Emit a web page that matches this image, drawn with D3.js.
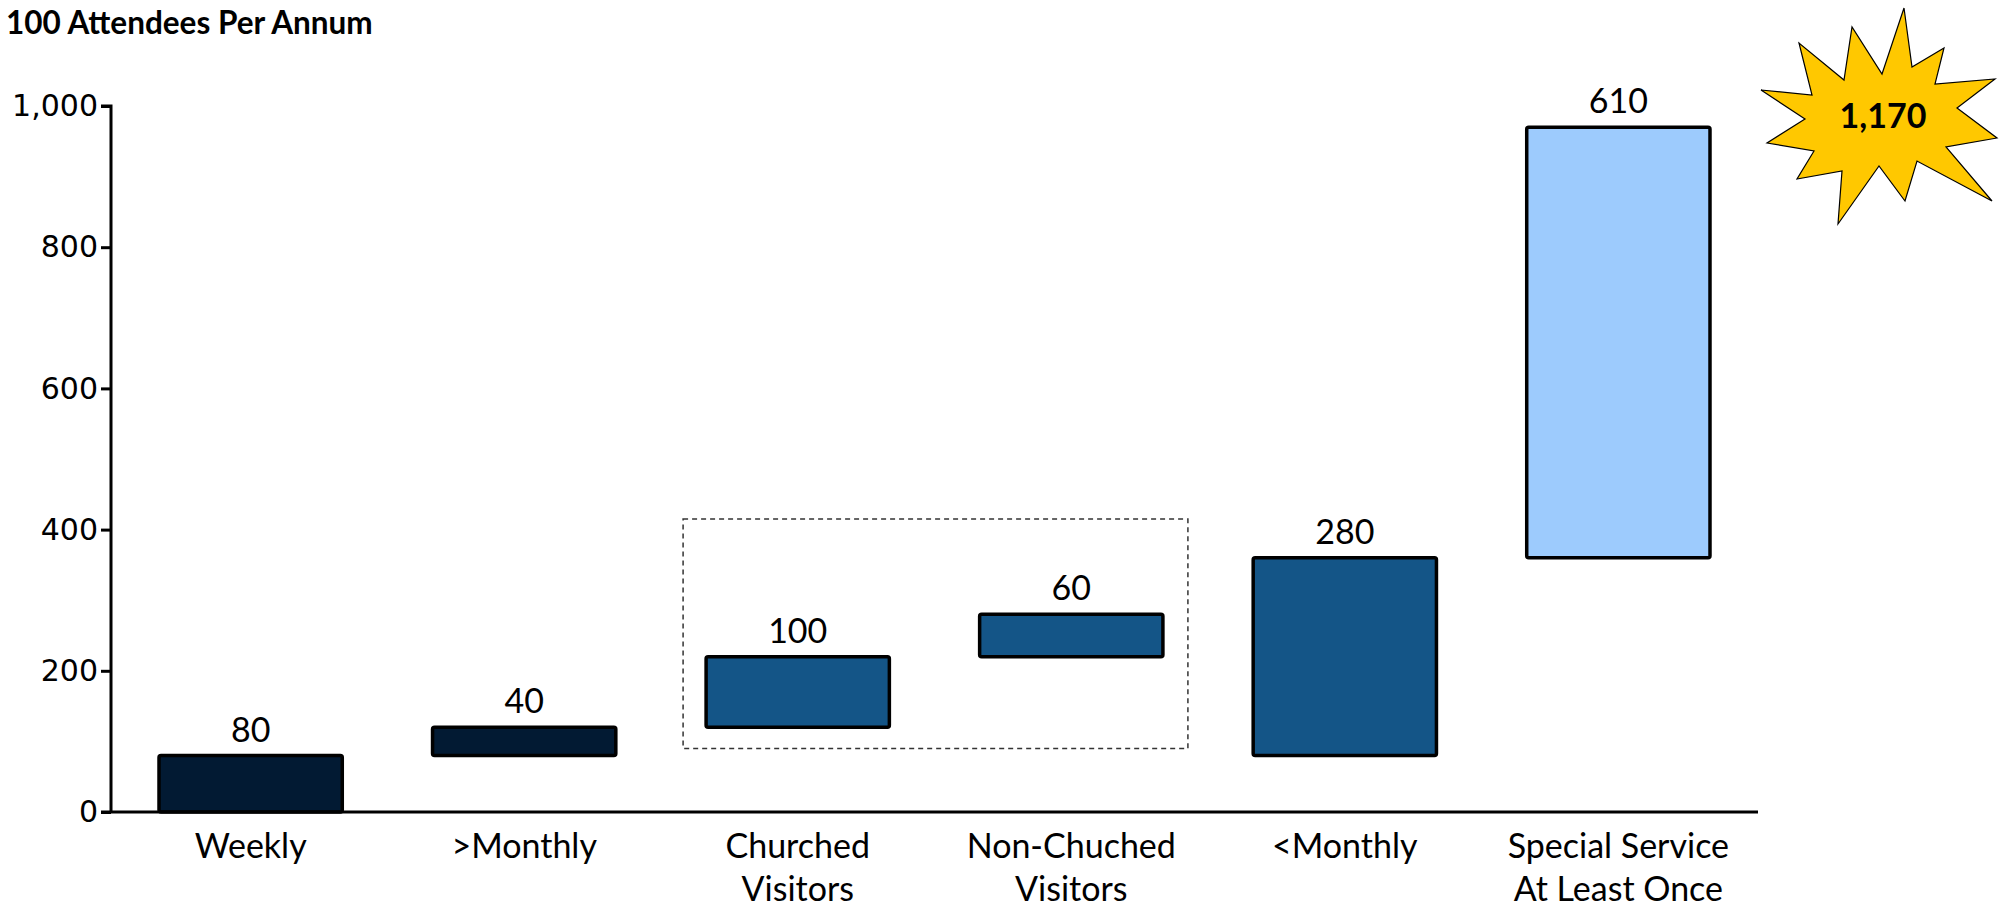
<!DOCTYPE html>
<html>
<head>
<meta charset="utf-8">
<script src="https://cdn.jsdelivr.net/npm/d3@7"></script>
<style>
  html, body { margin: 0; padding: 0; background: #ffffff; }
  svg { display: block; }
</style>
</head>
<body>
<svg id="chart" width="1999" height="908"></svg>
<script>
// ---- data ----
const categories = ["Weekly", ">Monthly", "Churched\nVisitors", "Non-Chuched\nVisitors", "<Monthly", "Special Service\nAt Least Once"];
const values     = [80, 40, 100, 60, 280, 610];
const bases      = [0, 80, 120, 220, 80, 360];
const colorGroup = ["dark", "dark", "mid", "mid", "mid", "light"];
const yTicks     = [0, 200, 400, 600, 800, 1000];
const titleText  = "100 Attendees Per Annum";
const boxedCats  = ["Churched\nVisitors", "Non-Chuched\nVisitors"];
const boxRange   = [90, 415];

const palette = { dark: "#021a33", mid: "#145587", light: "#9dcbfd" };
const labelFont = "Lato, 'Open Sans', sans-serif";

const svg = d3.select("#chart");
const x0 = 111, x1 = 1758, yBottom = 812, yTop = 106;

const x = d3.scaleBand().domain(categories).range([x0, x1]).paddingInner(0.33).paddingOuter(0.1755);
const y = d3.scaleLinear().domain([0, 1000]).range([yBottom, yTop]);

// title
svg.append("text")
  .attr("x", 6).attr("y", 34)
  .attr("font-family", labelFont).attr("font-weight", "bold")
  .attr("font-size", 31.5).attr("fill", "#000")
  .text(titleText);

// dashed box around visitor bars
const bx0 = x(boxedCats[0]) - 23, bx1 = x(boxedCats[1]) + x.bandwidth() + 25;
svg.append("rect")
  .attr("x", bx0).attr("y", y(boxRange[1]))
  .attr("width", bx1 - bx0).attr("height", y(boxRange[0]) - y(boxRange[1]))
  .attr("fill", "none").attr("stroke", "#333").attr("stroke-width", 1.5)
  .attr("stroke-dasharray", "5,4");

// bars
const data = categories.map((c, i) => ({ c, v: values[i], b: bases[i], g: colorGroup[i] }));
svg.append("g").selectAll("rect").data(data).join("rect")
  .attr("x", d => x(d.c))
  .attr("y", d => y(d.b + d.v))
  .attr("width", x.bandwidth())
  .attr("height", d => y(d.b) - y(d.b + d.v))
  .attr("rx", 2)
  .attr("fill", d => palette[d.g])
  .attr("stroke", "#000").attr("stroke-width", 3.5);

// value labels
svg.append("g").selectAll("text").data(data).join("text")
  .attr("x", d => x(d.c) + x.bandwidth() / 2)
  .attr("y", d => y(d.b + d.v) - 14)
  .attr("text-anchor", "middle")
  .attr("font-family", labelFont).attr("font-size", 34).attr("fill", "#000")
  .text(d => d3.format(",")(d.v));

// y axis
const yAxis = d3.axisLeft(y).tickValues(yTicks).tickFormat(d3.format(",")).tickSize(10).tickPadding(3);
const gy = svg.append("g").attr("transform", `translate(${x0},0)`).call(yAxis);
gy.select(".domain").attr("stroke", "#000").attr("stroke-width", 3).attr("d", `M-10,${yTop}H0V${yBottom}`);
gy.selectAll(".tick line").attr("stroke", "#000").attr("stroke-width", 3);
gy.selectAll(".tick text").attr("font-family", "'DejaVu Sans', Verdana, sans-serif").attr("font-size", 30).attr("fill", "#000");

// x axis
const xAxis = d3.axisBottom(x).tickSize(0).tickPadding(0).tickFormat("");
const gx = svg.append("g").attr("transform", `translate(0,${yBottom})`).call(xAxis);
gx.select(".domain").attr("stroke", "#000").attr("stroke-width", 3).attr("d", `M${x0 - 10},0H${x1}`);
gx.selectAll(".tick").each(function(d) {
  const lines = d.split("\n");
  const t = d3.select(this).append("text")
    .attr("text-anchor", "middle").attr("font-family", labelFont)
    .attr("font-size", 34).attr("fill", "#000");
  lines.forEach((ln, i) => t.append("tspan").attr("x", 0).attr("y", 46 + i * 43).text(ln));
});

// star callout with total
const total = d3.sum(values);
const starCenter = [1879, 116];
const starShape = [
  [25,-108],[33,-49],[65,-68],[56,-32],[116,-37],[78,-8],[118,22],[67,31],[113,85],[38,45],
  [26,85],[0,50],[-41,108],[-37,55],[-82,63],[-65,35],[-112,27],[-74,3],[-118,-26],[-67,-21],
  [-80,-73],[-35,-36],[-27,-89],[3,-42]
];
svg.append("polygon")
  .attr("points", starShape.map(p => [starCenter[0] + p[0], starCenter[1] + p[1]].join(",")).join(" "))
  .attr("fill", "#ffc800").attr("stroke", "#000").attr("stroke-width", 1.2).attr("stroke-linejoin", "miter");
svg.append("text")
  .attr("x", starCenter[0] + 4).attr("y", starCenter[1] + 12)
  .attr("text-anchor", "middle").attr("font-family", labelFont)
  .attr("font-weight", "bold").attr("font-size", 34).attr("fill", "#000")
  .text(d3.format(",")(total));
</script>
</body>
</html>
